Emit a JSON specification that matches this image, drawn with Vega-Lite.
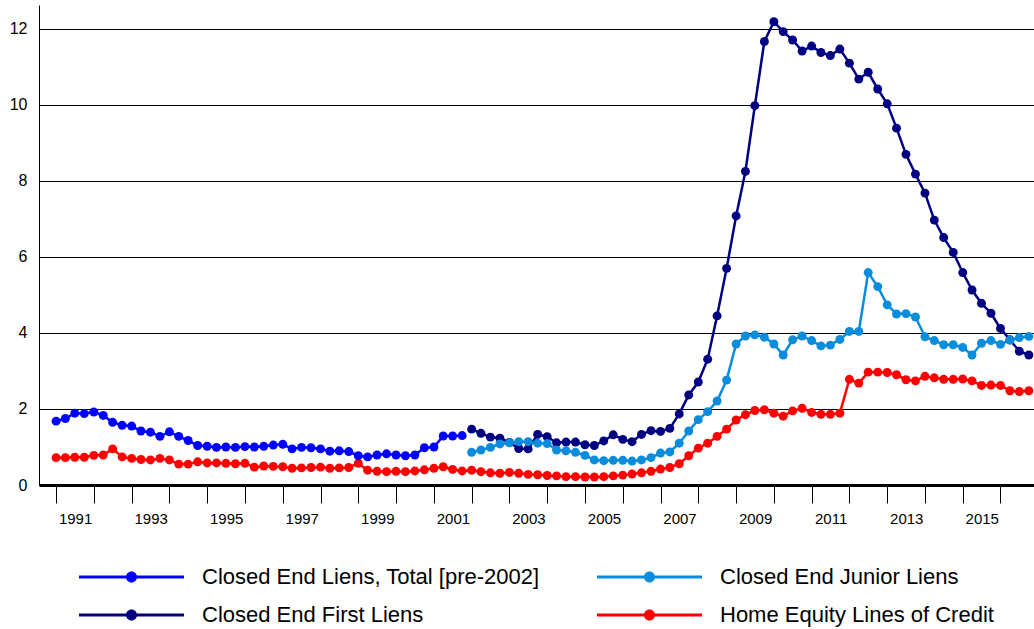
{
 "$schema": "https://vega.github.io/schema/vega-lite/v6.json",
 "width": 995,
 "height": 480,
 "autosize": {"type": "none"},
 "padding": {"left": 39, "top": 5, "right": 0, "bottom": 144},
 "background": "#ffffff",
 "config": {"font": "Liberation Sans", "view": {"stroke": null}},
 "data": {"values": [
  {"date":"1991-01-01","series":"Home Equity Lines of Credit","rate":0.72},
  {"date":"1991-04-01","series":"Home Equity Lines of Credit","rate":0.72},
  {"date":"1991-07-01","series":"Home Equity Lines of Credit","rate":0.73},
  {"date":"1991-10-01","series":"Home Equity Lines of Credit","rate":0.73},
  {"date":"1992-01-01","series":"Home Equity Lines of Credit","rate":0.78},
  {"date":"1992-04-01","series":"Home Equity Lines of Credit","rate":0.79},
  {"date":"1992-07-01","series":"Home Equity Lines of Credit","rate":0.95},
  {"date":"1992-10-01","series":"Home Equity Lines of Credit","rate":0.74},
  {"date":"1993-01-01","series":"Home Equity Lines of Credit","rate":0.70},
  {"date":"1993-04-01","series":"Home Equity Lines of Credit","rate":0.67},
  {"date":"1993-07-01","series":"Home Equity Lines of Credit","rate":0.66},
  {"date":"1993-10-01","series":"Home Equity Lines of Credit","rate":0.70},
  {"date":"1994-01-01","series":"Home Equity Lines of Credit","rate":0.66},
  {"date":"1994-04-01","series":"Home Equity Lines of Credit","rate":0.55},
  {"date":"1994-07-01","series":"Home Equity Lines of Credit","rate":0.55},
  {"date":"1994-10-01","series":"Home Equity Lines of Credit","rate":0.61},
  {"date":"1995-01-01","series":"Home Equity Lines of Credit","rate":0.58},
  {"date":"1995-04-01","series":"Home Equity Lines of Credit","rate":0.58},
  {"date":"1995-07-01","series":"Home Equity Lines of Credit","rate":0.57},
  {"date":"1995-10-01","series":"Home Equity Lines of Credit","rate":0.56},
  {"date":"1996-01-01","series":"Home Equity Lines of Credit","rate":0.57},
  {"date":"1996-04-01","series":"Home Equity Lines of Credit","rate":0.47},
  {"date":"1996-07-01","series":"Home Equity Lines of Credit","rate":0.50},
  {"date":"1996-10-01","series":"Home Equity Lines of Credit","rate":0.49},
  {"date":"1997-01-01","series":"Home Equity Lines of Credit","rate":0.48},
  {"date":"1997-04-01","series":"Home Equity Lines of Credit","rate":0.44},
  {"date":"1997-07-01","series":"Home Equity Lines of Credit","rate":0.45},
  {"date":"1997-10-01","series":"Home Equity Lines of Credit","rate":0.46},
  {"date":"1998-01-01","series":"Home Equity Lines of Credit","rate":0.47},
  {"date":"1998-04-01","series":"Home Equity Lines of Credit","rate":0.44},
  {"date":"1998-07-01","series":"Home Equity Lines of Credit","rate":0.45},
  {"date":"1998-10-01","series":"Home Equity Lines of Credit","rate":0.46},
  {"date":"1999-01-01","series":"Home Equity Lines of Credit","rate":0.57},
  {"date":"1999-04-01","series":"Home Equity Lines of Credit","rate":0.39},
  {"date":"1999-07-01","series":"Home Equity Lines of Credit","rate":0.36},
  {"date":"1999-10-01","series":"Home Equity Lines of Credit","rate":0.35},
  {"date":"2000-01-01","series":"Home Equity Lines of Credit","rate":0.36},
  {"date":"2000-04-01","series":"Home Equity Lines of Credit","rate":0.35},
  {"date":"2000-07-01","series":"Home Equity Lines of Credit","rate":0.37},
  {"date":"2000-10-01","series":"Home Equity Lines of Credit","rate":0.40},
  {"date":"2001-01-01","series":"Home Equity Lines of Credit","rate":0.44},
  {"date":"2001-04-01","series":"Home Equity Lines of Credit","rate":0.48},
  {"date":"2001-07-01","series":"Home Equity Lines of Credit","rate":0.41},
  {"date":"2001-10-01","series":"Home Equity Lines of Credit","rate":0.37},
  {"date":"2002-01-01","series":"Home Equity Lines of Credit","rate":0.39},
  {"date":"2002-04-01","series":"Home Equity Lines of Credit","rate":0.35},
  {"date":"2002-07-01","series":"Home Equity Lines of Credit","rate":0.32},
  {"date":"2002-10-01","series":"Home Equity Lines of Credit","rate":0.31},
  {"date":"2003-01-01","series":"Home Equity Lines of Credit","rate":0.33},
  {"date":"2003-04-01","series":"Home Equity Lines of Credit","rate":0.31},
  {"date":"2003-07-01","series":"Home Equity Lines of Credit","rate":0.28},
  {"date":"2003-10-01","series":"Home Equity Lines of Credit","rate":0.27},
  {"date":"2004-01-01","series":"Home Equity Lines of Credit","rate":0.25},
  {"date":"2004-04-01","series":"Home Equity Lines of Credit","rate":0.24},
  {"date":"2004-07-01","series":"Home Equity Lines of Credit","rate":0.22},
  {"date":"2004-10-01","series":"Home Equity Lines of Credit","rate":0.22},
  {"date":"2005-01-01","series":"Home Equity Lines of Credit","rate":0.21},
  {"date":"2005-04-01","series":"Home Equity Lines of Credit","rate":0.21},
  {"date":"2005-07-01","series":"Home Equity Lines of Credit","rate":0.22},
  {"date":"2005-10-01","series":"Home Equity Lines of Credit","rate":0.24},
  {"date":"2006-01-01","series":"Home Equity Lines of Credit","rate":0.26},
  {"date":"2006-04-01","series":"Home Equity Lines of Credit","rate":0.29},
  {"date":"2006-07-01","series":"Home Equity Lines of Credit","rate":0.32},
  {"date":"2006-10-01","series":"Home Equity Lines of Credit","rate":0.36},
  {"date":"2007-01-01","series":"Home Equity Lines of Credit","rate":0.42},
  {"date":"2007-04-01","series":"Home Equity Lines of Credit","rate":0.46},
  {"date":"2007-07-01","series":"Home Equity Lines of Credit","rate":0.56},
  {"date":"2007-10-01","series":"Home Equity Lines of Credit","rate":0.77},
  {"date":"2008-01-01","series":"Home Equity Lines of Credit","rate":0.97},
  {"date":"2008-04-01","series":"Home Equity Lines of Credit","rate":1.10},
  {"date":"2008-07-01","series":"Home Equity Lines of Credit","rate":1.28},
  {"date":"2008-10-01","series":"Home Equity Lines of Credit","rate":1.47},
  {"date":"2009-01-01","series":"Home Equity Lines of Credit","rate":1.71},
  {"date":"2009-04-01","series":"Home Equity Lines of Credit","rate":1.85},
  {"date":"2009-07-01","series":"Home Equity Lines of Credit","rate":1.96},
  {"date":"2009-10-01","series":"Home Equity Lines of Credit","rate":1.98},
  {"date":"2010-01-01","series":"Home Equity Lines of Credit","rate":1.89},
  {"date":"2010-04-01","series":"Home Equity Lines of Credit","rate":1.81},
  {"date":"2010-07-01","series":"Home Equity Lines of Credit","rate":1.95},
  {"date":"2010-10-01","series":"Home Equity Lines of Credit","rate":2.02},
  {"date":"2011-01-01","series":"Home Equity Lines of Credit","rate":1.91},
  {"date":"2011-04-01","series":"Home Equity Lines of Credit","rate":1.86},
  {"date":"2011-07-01","series":"Home Equity Lines of Credit","rate":1.86},
  {"date":"2011-10-01","series":"Home Equity Lines of Credit","rate":1.89},
  {"date":"2012-01-01","series":"Home Equity Lines of Credit","rate":2.78},
  {"date":"2012-04-01","series":"Home Equity Lines of Credit","rate":2.68},
  {"date":"2012-07-01","series":"Home Equity Lines of Credit","rate":2.97},
  {"date":"2012-10-01","series":"Home Equity Lines of Credit","rate":2.97},
  {"date":"2013-01-01","series":"Home Equity Lines of Credit","rate":2.96},
  {"date":"2013-04-01","series":"Home Equity Lines of Credit","rate":2.90},
  {"date":"2013-07-01","series":"Home Equity Lines of Credit","rate":2.77},
  {"date":"2013-10-01","series":"Home Equity Lines of Credit","rate":2.74},
  {"date":"2014-01-01","series":"Home Equity Lines of Credit","rate":2.86},
  {"date":"2014-04-01","series":"Home Equity Lines of Credit","rate":2.82},
  {"date":"2014-07-01","series":"Home Equity Lines of Credit","rate":2.78},
  {"date":"2014-10-01","series":"Home Equity Lines of Credit","rate":2.78},
  {"date":"2015-01-01","series":"Home Equity Lines of Credit","rate":2.79},
  {"date":"2015-04-01","series":"Home Equity Lines of Credit","rate":2.74},
  {"date":"2015-07-01","series":"Home Equity Lines of Credit","rate":2.62},
  {"date":"2015-10-01","series":"Home Equity Lines of Credit","rate":2.63},
  {"date":"2016-01-01","series":"Home Equity Lines of Credit","rate":2.62},
  {"date":"2016-04-01","series":"Home Equity Lines of Credit","rate":2.48},
  {"date":"2016-07-01","series":"Home Equity Lines of Credit","rate":2.46},
  {"date":"2016-10-01","series":"Home Equity Lines of Credit","rate":2.48},

  {"date":"1991-01-01","series":"Closed End Liens, Total [pre-2002]","rate":1.68},
  {"date":"1991-04-01","series":"Closed End Liens, Total [pre-2002]","rate":1.75},
  {"date":"1991-07-01","series":"Closed End Liens, Total [pre-2002]","rate":1.89},
  {"date":"1991-10-01","series":"Closed End Liens, Total [pre-2002]","rate":1.88},
  {"date":"1992-01-01","series":"Closed End Liens, Total [pre-2002]","rate":1.92},
  {"date":"1992-04-01","series":"Closed End Liens, Total [pre-2002]","rate":1.83},
  {"date":"1992-07-01","series":"Closed End Liens, Total [pre-2002]","rate":1.65},
  {"date":"1992-10-01","series":"Closed End Liens, Total [pre-2002]","rate":1.57},
  {"date":"1993-01-01","series":"Closed End Liens, Total [pre-2002]","rate":1.55},
  {"date":"1993-04-01","series":"Closed End Liens, Total [pre-2002]","rate":1.42},
  {"date":"1993-07-01","series":"Closed End Liens, Total [pre-2002]","rate":1.39},
  {"date":"1993-10-01","series":"Closed End Liens, Total [pre-2002]","rate":1.28},
  {"date":"1994-01-01","series":"Closed End Liens, Total [pre-2002]","rate":1.40},
  {"date":"1994-04-01","series":"Closed End Liens, Total [pre-2002]","rate":1.28},
  {"date":"1994-07-01","series":"Closed End Liens, Total [pre-2002]","rate":1.17},
  {"date":"1994-10-01","series":"Closed End Liens, Total [pre-2002]","rate":1.04},
  {"date":"1995-01-01","series":"Closed End Liens, Total [pre-2002]","rate":1.02},
  {"date":"1995-04-01","series":"Closed End Liens, Total [pre-2002]","rate":0.99},
  {"date":"1995-07-01","series":"Closed End Liens, Total [pre-2002]","rate":1.00},
  {"date":"1995-10-01","series":"Closed End Liens, Total [pre-2002]","rate":0.99},
  {"date":"1996-01-01","series":"Closed End Liens, Total [pre-2002]","rate":1.01},
  {"date":"1996-04-01","series":"Closed End Liens, Total [pre-2002]","rate":1.00},
  {"date":"1996-07-01","series":"Closed End Liens, Total [pre-2002]","rate":1.02},
  {"date":"1996-10-01","series":"Closed End Liens, Total [pre-2002]","rate":1.05},
  {"date":"1997-01-01","series":"Closed End Liens, Total [pre-2002]","rate":1.07},
  {"date":"1997-04-01","series":"Closed End Liens, Total [pre-2002]","rate":0.95},
  {"date":"1997-07-01","series":"Closed End Liens, Total [pre-2002]","rate":0.99},
  {"date":"1997-10-01","series":"Closed End Liens, Total [pre-2002]","rate":0.98},
  {"date":"1998-01-01","series":"Closed End Liens, Total [pre-2002]","rate":0.95},
  {"date":"1998-04-01","series":"Closed End Liens, Total [pre-2002]","rate":0.89},
  {"date":"1998-07-01","series":"Closed End Liens, Total [pre-2002]","rate":0.90},
  {"date":"1998-10-01","series":"Closed End Liens, Total [pre-2002]","rate":0.88},
  {"date":"1999-01-01","series":"Closed End Liens, Total [pre-2002]","rate":0.77},
  {"date":"1999-04-01","series":"Closed End Liens, Total [pre-2002]","rate":0.74},
  {"date":"1999-07-01","series":"Closed End Liens, Total [pre-2002]","rate":0.79},
  {"date":"1999-10-01","series":"Closed End Liens, Total [pre-2002]","rate":0.82},
  {"date":"2000-01-01","series":"Closed End Liens, Total [pre-2002]","rate":0.79},
  {"date":"2000-04-01","series":"Closed End Liens, Total [pre-2002]","rate":0.77},
  {"date":"2000-07-01","series":"Closed End Liens, Total [pre-2002]","rate":0.79},
  {"date":"2000-10-01","series":"Closed End Liens, Total [pre-2002]","rate":0.98},
  {"date":"2001-01-01","series":"Closed End Liens, Total [pre-2002]","rate":1.00},
  {"date":"2001-04-01","series":"Closed End Liens, Total [pre-2002]","rate":1.29},
  {"date":"2001-07-01","series":"Closed End Liens, Total [pre-2002]","rate":1.29},
  {"date":"2001-10-01","series":"Closed End Liens, Total [pre-2002]","rate":1.30},

  {"date":"2002-01-01","series":"Closed End First Liens","rate":1.47},
  {"date":"2002-04-01","series":"Closed End First Liens","rate":1.36},
  {"date":"2002-07-01","series":"Closed End First Liens","rate":1.26},
  {"date":"2002-10-01","series":"Closed End First Liens","rate":1.23},
  {"date":"2003-01-01","series":"Closed End First Liens","rate":1.12},
  {"date":"2003-04-01","series":"Closed End First Liens","rate":0.96},
  {"date":"2003-07-01","series":"Closed End First Liens","rate":0.95},
  {"date":"2003-10-01","series":"Closed End First Liens","rate":1.33},
  {"date":"2004-01-01","series":"Closed End First Liens","rate":1.27},
  {"date":"2004-04-01","series":"Closed End First Liens","rate":1.11},
  {"date":"2004-07-01","series":"Closed End First Liens","rate":1.13},
  {"date":"2004-10-01","series":"Closed End First Liens","rate":1.13},
  {"date":"2005-01-01","series":"Closed End First Liens","rate":1.06},
  {"date":"2005-04-01","series":"Closed End First Liens","rate":1.04},
  {"date":"2005-07-01","series":"Closed End First Liens","rate":1.16},
  {"date":"2005-10-01","series":"Closed End First Liens","rate":1.32},
  {"date":"2006-01-01","series":"Closed End First Liens","rate":1.20},
  {"date":"2006-04-01","series":"Closed End First Liens","rate":1.14},
  {"date":"2006-07-01","series":"Closed End First Liens","rate":1.33},
  {"date":"2006-10-01","series":"Closed End First Liens","rate":1.43},
  {"date":"2007-01-01","series":"Closed End First Liens","rate":1.41},
  {"date":"2007-04-01","series":"Closed End First Liens","rate":1.49},
  {"date":"2007-07-01","series":"Closed End First Liens","rate":1.87},
  {"date":"2007-10-01","series":"Closed End First Liens","rate":2.37},
  {"date":"2008-01-01","series":"Closed End First Liens","rate":2.71},
  {"date":"2008-04-01","series":"Closed End First Liens","rate":3.31},
  {"date":"2008-07-01","series":"Closed End First Liens","rate":4.45},
  {"date":"2008-10-01","series":"Closed End First Liens","rate":5.70},
  {"date":"2009-01-01","series":"Closed End First Liens","rate":7.08},
  {"date":"2009-04-01","series":"Closed End First Liens","rate":8.25},
  {"date":"2009-07-01","series":"Closed End First Liens","rate":9.98},
  {"date":"2009-10-01","series":"Closed End First Liens","rate":11.67},
  {"date":"2010-01-01","series":"Closed End First Liens","rate":12.19},
  {"date":"2010-04-01","series":"Closed End First Liens","rate":11.93},
  {"date":"2010-07-01","series":"Closed End First Liens","rate":11.71},
  {"date":"2010-10-01","series":"Closed End First Liens","rate":11.42},
  {"date":"2011-01-01","series":"Closed End First Liens","rate":11.55},
  {"date":"2011-04-01","series":"Closed End First Liens","rate":11.38},
  {"date":"2011-07-01","series":"Closed End First Liens","rate":11.30},
  {"date":"2011-10-01","series":"Closed End First Liens","rate":11.47},
  {"date":"2012-01-01","series":"Closed End First Liens","rate":11.10},
  {"date":"2012-04-01","series":"Closed End First Liens","rate":10.68},
  {"date":"2012-07-01","series":"Closed End First Liens","rate":10.86},
  {"date":"2012-10-01","series":"Closed End First Liens","rate":10.42},
  {"date":"2013-01-01","series":"Closed End First Liens","rate":10.03},
  {"date":"2013-04-01","series":"Closed End First Liens","rate":9.39},
  {"date":"2013-07-01","series":"Closed End First Liens","rate":8.70},
  {"date":"2013-10-01","series":"Closed End First Liens","rate":8.18},
  {"date":"2014-01-01","series":"Closed End First Liens","rate":7.68},
  {"date":"2014-04-01","series":"Closed End First Liens","rate":6.97},
  {"date":"2014-07-01","series":"Closed End First Liens","rate":6.51},
  {"date":"2014-10-01","series":"Closed End First Liens","rate":6.12},
  {"date":"2015-01-01","series":"Closed End First Liens","rate":5.59},
  {"date":"2015-04-01","series":"Closed End First Liens","rate":5.13},
  {"date":"2015-07-01","series":"Closed End First Liens","rate":4.78},
  {"date":"2015-10-01","series":"Closed End First Liens","rate":4.52},
  {"date":"2016-01-01","series":"Closed End First Liens","rate":4.12},
  {"date":"2016-04-01","series":"Closed End First Liens","rate":3.82},
  {"date":"2016-07-01","series":"Closed End First Liens","rate":3.52},
  {"date":"2016-10-01","series":"Closed End First Liens","rate":3.42},

  {"date":"2002-01-01","series":"Closed End Junior Liens","rate":0.86},
  {"date":"2002-04-01","series":"Closed End Junior Liens","rate":0.92},
  {"date":"2002-07-01","series":"Closed End Junior Liens","rate":0.99},
  {"date":"2002-10-01","series":"Closed End Junior Liens","rate":1.08},
  {"date":"2003-01-01","series":"Closed End Junior Liens","rate":1.11},
  {"date":"2003-04-01","series":"Closed End Junior Liens","rate":1.14},
  {"date":"2003-07-01","series":"Closed End Junior Liens","rate":1.14},
  {"date":"2003-10-01","series":"Closed End Junior Liens","rate":1.10},
  {"date":"2004-01-01","series":"Closed End Junior Liens","rate":1.09},
  {"date":"2004-04-01","series":"Closed End Junior Liens","rate":0.92},
  {"date":"2004-07-01","series":"Closed End Junior Liens","rate":0.90},
  {"date":"2004-10-01","series":"Closed End Junior Liens","rate":0.86},
  {"date":"2005-01-01","series":"Closed End Junior Liens","rate":0.78},
  {"date":"2005-04-01","series":"Closed End Junior Liens","rate":0.66},
  {"date":"2005-07-01","series":"Closed End Junior Liens","rate":0.64},
  {"date":"2005-10-01","series":"Closed End Junior Liens","rate":0.65},
  {"date":"2006-01-01","series":"Closed End Junior Liens","rate":0.65},
  {"date":"2006-04-01","series":"Closed End Junior Liens","rate":0.63},
  {"date":"2006-07-01","series":"Closed End Junior Liens","rate":0.66},
  {"date":"2006-10-01","series":"Closed End Junior Liens","rate":0.72},
  {"date":"2007-01-01","series":"Closed End Junior Liens","rate":0.84},
  {"date":"2007-04-01","series":"Closed End Junior Liens","rate":0.87},
  {"date":"2007-07-01","series":"Closed End Junior Liens","rate":1.10},
  {"date":"2007-10-01","series":"Closed End Junior Liens","rate":1.42},
  {"date":"2008-01-01","series":"Closed End Junior Liens","rate":1.72},
  {"date":"2008-04-01","series":"Closed End Junior Liens","rate":1.93},
  {"date":"2008-07-01","series":"Closed End Junior Liens","rate":2.21},
  {"date":"2008-10-01","series":"Closed End Junior Liens","rate":2.76},
  {"date":"2009-01-01","series":"Closed End Junior Liens","rate":3.71},
  {"date":"2009-04-01","series":"Closed End Junior Liens","rate":3.92},
  {"date":"2009-07-01","series":"Closed End Junior Liens","rate":3.95},
  {"date":"2009-10-01","series":"Closed End Junior Liens","rate":3.89},
  {"date":"2010-01-01","series":"Closed End Junior Liens","rate":3.71},
  {"date":"2010-04-01","series":"Closed End Junior Liens","rate":3.42},
  {"date":"2010-07-01","series":"Closed End Junior Liens","rate":3.82},
  {"date":"2010-10-01","series":"Closed End Junior Liens","rate":3.92},
  {"date":"2011-01-01","series":"Closed End Junior Liens","rate":3.80},
  {"date":"2011-04-01","series":"Closed End Junior Liens","rate":3.66},
  {"date":"2011-07-01","series":"Closed End Junior Liens","rate":3.68},
  {"date":"2011-10-01","series":"Closed End Junior Liens","rate":3.83},
  {"date":"2012-01-01","series":"Closed End Junior Liens","rate":4.04},
  {"date":"2012-04-01","series":"Closed End Junior Liens","rate":4.04},
  {"date":"2012-07-01","series":"Closed End Junior Liens","rate":5.59},
  {"date":"2012-10-01","series":"Closed End Junior Liens","rate":5.22},
  {"date":"2013-01-01","series":"Closed End Junior Liens","rate":4.74},
  {"date":"2013-04-01","series":"Closed End Junior Liens","rate":4.50},
  {"date":"2013-07-01","series":"Closed End Junior Liens","rate":4.51},
  {"date":"2013-10-01","series":"Closed End Junior Liens","rate":4.42},
  {"date":"2014-01-01","series":"Closed End Junior Liens","rate":3.90},
  {"date":"2014-04-01","series":"Closed End Junior Liens","rate":3.80},
  {"date":"2014-07-01","series":"Closed End Junior Liens","rate":3.69},
  {"date":"2014-10-01","series":"Closed End Junior Liens","rate":3.69},
  {"date":"2015-01-01","series":"Closed End Junior Liens","rate":3.62},
  {"date":"2015-04-01","series":"Closed End Junior Liens","rate":3.42},
  {"date":"2015-07-01","series":"Closed End Junior Liens","rate":3.73},
  {"date":"2015-10-01","series":"Closed End Junior Liens","rate":3.80},
  {"date":"2016-01-01","series":"Closed End Junior Liens","rate":3.70},
  {"date":"2016-04-01","series":"Closed End Junior Liens","rate":3.81},
  {"date":"2016-07-01","series":"Closed End Junior Liens","rate":3.88},
  {"date":"2016-10-01","series":"Closed End Junior Liens","rate":3.91}
 ]},
 "mark": {"type": "line", "strokeWidth": 2.5, "point": {"filled": true, "size": 80, "opacity": 1}},
 "encoding": {
  "x": {
   "field": "date", "type": "temporal",
   "scale": {"domain": [{"year": 1990, "month": 7, "date": 20}, {"year": 2016, "month": 11, "date": 20}]},
   "axis": {
    "title": null, "grid": false,
    "values": [
     {"year":1991,"month":1,"date":1},{"year":1992,"month":1,"date":1},{"year":1993,"month":1,"date":1},{"year":1994,"month":1,"date":1},
     {"year":1995,"month":1,"date":1},{"year":1996,"month":1,"date":1},{"year":1997,"month":1,"date":1},{"year":1998,"month":1,"date":1},
     {"year":1999,"month":1,"date":1},{"year":2000,"month":1,"date":1},{"year":2001,"month":1,"date":1},{"year":2002,"month":1,"date":1},
     {"year":2003,"month":1,"date":1},{"year":2004,"month":1,"date":1},{"year":2005,"month":1,"date":1},{"year":2006,"month":1,"date":1},
     {"year":2007,"month":1,"date":1},{"year":2008,"month":1,"date":1},{"year":2009,"month":1,"date":1},{"year":2010,"month":1,"date":1},
     {"year":2011,"month":1,"date":1},{"year":2012,"month":1,"date":1},{"year":2013,"month":1,"date":1},{"year":2014,"month":1,"date":1},
     {"year":2015,"month":1,"date":1},{"year":2016,"month":1,"date":1}
    ],
    "labelExpr": "year(datum.value) % 2 == 1 ? '' + year(datum.value) : ''",
    "labelOffset": 19, "labelPadding": 8, "labelFontSize": 15, "labelColor": "#000000",
    "labelOverlap": false, "labelFlush": false,
    "tickSize": 18, "tickColor": "#000000", "tickWidth": 1,
    "domainColor": "#000000", "domainWidth": 3
   }
  },
  "y": {
   "field": "rate", "type": "quantitative",
   "scale": {"domain": [0, 12.63], "nice": false},
   "axis": {
    "title": null, "values": [0, 2, 4, 6, 8, 10, 12],
    "grid": true, "gridColor": "#000000", "gridWidth": 1, "gridOpacity": 1,
    "tickSize": 0, "domainColor": "#000000", "domainWidth": 1,
    "labelPadding": 12, "labelFontSize": 16, "labelColor": "#000000"
   }
  },
  "color": {
   "field": "series", "type": "nominal",
   "scale": {
    "domain": ["Closed End Liens, Total [pre-2002]", "Closed End First Liens", "Closed End Junior Liens", "Home Equity Lines of Credit"],
    "range": ["#0000FF", "#000080", "#0A8CDC", "#FF0000"]
   },
   "legend": {
    "orient": "none", "legendX": 39, "legendY": 561, "columns": 2, "title": null,
    "padding": 0, "offset": 0,
    "symbolType": "M-1,-0.15L9.5,-0.15L9.5,0.15L-1,0.15Z M3.7,0 A0.55,0.55 0 1,1 4.8,0 A0.55,0.55 0 1,1 3.7,0 Z",
    "symbolSize": 400, "symbolStrokeWidth": 0, "symbolOpacity": 1,
    "labelFontSize": 22, "labelOffset": 102, "labelLimit": 0, "labelColor": "#000000",
    "columnPadding": 56, "rowPadding": 16,
    "encode": {"symbols": {"update": {"fill": {"scale": "color", "field": "value"}, "opacity": {"value": 1}}}}
   }
  }
 }
}
